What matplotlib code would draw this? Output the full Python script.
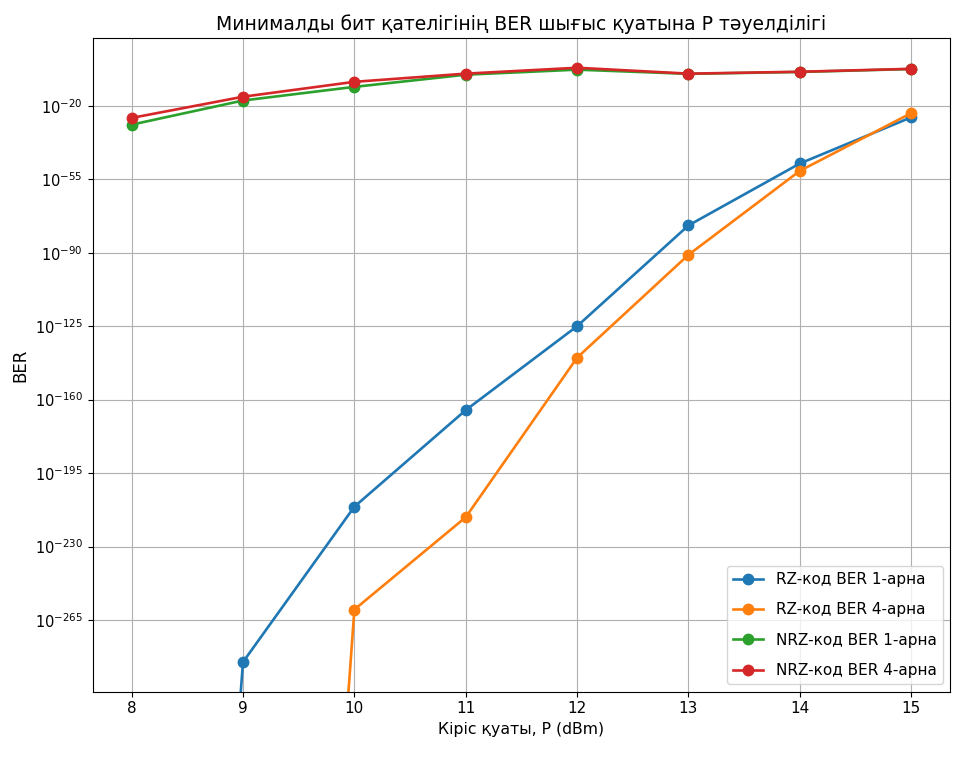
import numpy as np
import matplotlib.pyplot as plt

# input power, dBm
power = [8, 9, 10, 11, 12, 13, 14, 15]

# BER exponents (None -> BER == 0)
rz_1ch_exp = [None, -285, -211, -165, -125, -77, -47.5, -25.5]
rz_4ch_exp = [None, None, -260, -216, -140, -91, -51, -23.5]
nrz_1ch_exp = [-29, -17.5, -11, -5.2, -2.8, -4.8, -3.9, -2.5]
nrz_4ch_exp = [-25.8, -15.7, -8.6, -4.7, -1.9, -4.7, -3.8, -2.4]

labels = ["RZ-код BER 1-арна", "RZ-код BER 4-арна",
          "NRZ-код BER 1-арна", "NRZ-код BER 4-арна"]


def to_ber(exps):
    return np.array([0.0 if e is None else 10.0 ** e for e in exps])


series = [rz_1ch_exp, rz_4ch_exp, nrz_1ch_exp, nrz_4ch_exp]

fig, ax = plt.subplots(figsize=(9.55, 7.61), dpi=100)
fig.subplots_adjust(left=0.097, right=0.995, top=0.950, bottom=0.091)

for exps, label in zip(series, labels):
    ax.plot(power, to_ber(exps), marker='o', markersize=7.5, linewidth=1.9,
            label=label)

ax.set_yscale('log')
ax.set_yticks([10.0 ** e for e in [-20, -55, -90, -125, -160, -195, -230, -265]])
ax.minorticks_off()
ax.grid(True)
ax.tick_params(axis='y', labelsize=10.5)
ax.tick_params(axis='x', labelsize=11)

ax.set_title("Минималды бит қателігінің BER шығыс қуатына P тәуелділігі",
             fontsize=13.5)
ax.set_xlabel("Кіріс қуаты, P (dBm)", fontsize=11.3)
ax.set_ylabel("BER", fontsize=12)
ax.legend(loc='lower right', fontsize=11, labelspacing=1.0)

plt.savefig("out.png")
